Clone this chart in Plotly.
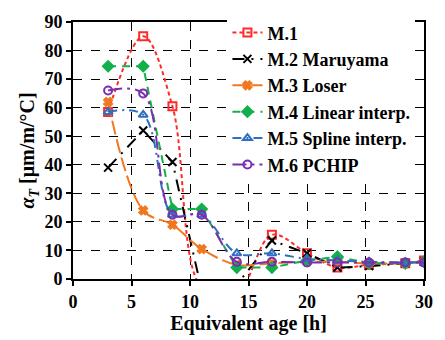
import plotly.graph_objects as go

# Equivalent age [h]
age = [3, 6, 8.5, 11, 14, 17, 20, 22.6, 25.3, 28.4, 30]

m1 = [58.5, 85.0, 60.5, -3.0, -5.0, 15.5, 9.0, 4.0, 5.0, 5.5, 6.5]
m2 = [39.0, 52.0, 41.0, -4.0, -2.0, 13.5, 9.0, 4.0, 4.5, 5.5, 6.0]
m3 = [62.0, 24.0, 19.0, 10.5, 5.0, 5.5, 6.0, 6.0, 5.5, 5.5, 6.0]
m4 = [74.5, 74.5, 24.5, 24.5, 4.0, 4.0, 6.5, 7.8, 5.5, 5.5, 6.0]
m5 = [58.5, 57.5, 22.5, 22.5, 9.0, 9.0, 7.0, 6.5, 6.0, 5.8, 6.0]
m6 = [66.0, 65.0, 22.5, 22.5, 6.0, 6.0, 5.8, 5.8, 5.8, 5.8, 5.8]

names = ["M.1", "M.2 Maruyama", "M.3 Loser", "M.4 Linear interp.",
         "M.5 Spline interp.", "M.6 PCHIP"]
series = [m1, m2, m3, m4, m5, m6]
colors = ["#FF2A2A", "#000000", "#F07820", "#12B04A", "#2F6FC0", "#7A2EB0"]
dashes = ["4px,3px", "12px,7px,2px,7px", "14px,5px", "8px,6px",
          "9px,5px,2px,5px", "14px,5px,3px,5px"]
symbols = ["square-open", "x-thin-open", "x", "diamond", "triangle-up-open", "circle-open"]
sizes = [8, 8, 7, 8, 8, 8]
shapes = ["spline", "linear", "spline", "linear", "spline", "spline"]

fig = go.Figure()
for i, (nm, ys) in enumerate(zip(names, series)):
    fig.add_trace(go.Scatter(
        x=age, y=ys, name=nm, mode="lines+markers",
        legendgroup=f"g{i}",
        line=dict(color=colors[i], width=2, dash=dashes[i], shape=shapes[i], smoothing=1),
        marker=dict(symbol=symbols[i], size=sizes[i], color=colors[i],
                    line=dict(color=colors[i], width=2)),
    ))

serif = "Liberation Serif, Times New Roman, serif"
axis_common = dict(
    showline=True, linecolor="black", linewidth=2, mirror=True,
    showgrid=True, gridcolor="black", griddash="dash", gridwidth=1,
    zeroline=False, ticks="outside", ticklen=5, tickwidth=2, tickcolor="black",
    tickfont=dict(family=serif, size=18, color="black", weight="bold"),
)

fig.update_xaxes(range=[0, 30], dtick=5,
                 title=dict(text="Equivalent age [h]", standoff=2,
                            font=dict(family=serif, size=20, color="black", weight="bold")),
                 **axis_common)
fig.update_yaxes(range=[0, 90], dtick=10,
                 title=dict(text="<i>α<sub>T</sub></i> [μm/m/°C]", standoff=4,
                            font=dict(family=serif, size=20, color="black", weight="bold")),
                 **axis_common)

fig.update_layout(
    width=445, height=340,
    margin=dict(l=73, r=17, t=13, b=60),
    paper_bgcolor="white", plot_bgcolor="white",
    showlegend=True,
    legend=dict(x=0.44, y=1.03, xanchor="left", yanchor="top",
                bgcolor="white", borderwidth=0,
                traceorder="grouped", tracegroupgap=0,
                font=dict(family=serif, size=18, color="black", weight="bold")),
)

fig.write_html("out.html")
